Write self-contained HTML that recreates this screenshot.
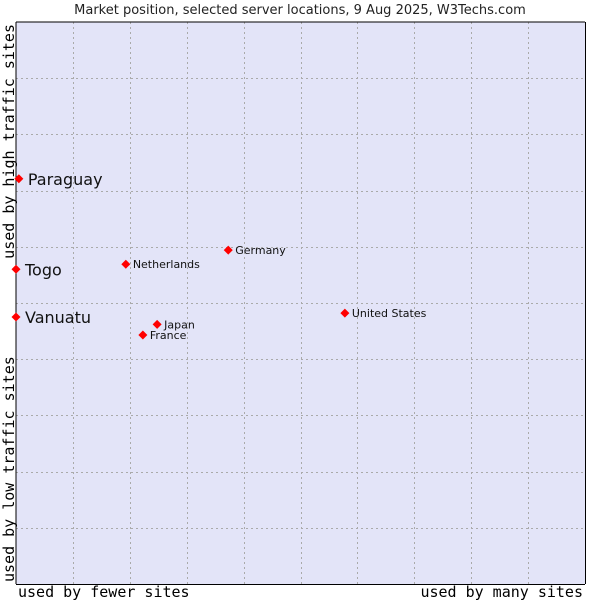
<!DOCTYPE html>
<html><head><meta charset="utf-8"><style>
body{margin:0;background:#fff;}
svg{display:block;font-family:"DejaVu Sans","Liberation Sans",sans-serif;}
</style></head><body>
<svg id="chart" width="600" height="600">
<text x="300" y="14" text-anchor="middle" font-size="13" fill="#222">Market position, selected server locations, 9 Aug 2025, W3Techs.com</text>
<rect x="16" y="22" width="569" height="562" fill="#e3e4f8"/>
<g id="grid"></g>
<line x1="16" y1="22" x2="585" y2="22" stroke="#000"/>
<line x1="16" y1="22" x2="16" y2="584" stroke="#000"/>
<line x1="16" y1="584.5" x2="585" y2="584.5" stroke="#000"/>
<line x1="585.5" y1="22" x2="585.5" y2="584" stroke="#000"/>
<g id="points"></g>
<text x="18" y="597" font-family="DejaVu Sans Mono,Liberation Mono,monospace" font-size="15">used by fewer sites</text>
<text x="583" y="597" text-anchor="end" font-family="DejaVu Sans Mono,Liberation Mono,monospace" font-size="15">used by many sites</text>
<text transform="translate(14,582) rotate(-90)" font-family="DejaVu Sans Mono,Liberation Mono,monospace" font-size="15">used by low traffic sites</text>
<text transform="translate(14,24) rotate(-90)" text-anchor="end" font-family="DejaVu Sans Mono,Liberation Mono,monospace" font-size="15">used by high traffic sites</text>
</svg>
<script>
const names=["Paraguay","Togo","Vanuatu","Netherlands","Germany","United States","Japan","France"];
const xVals=[0.5,0,0,19.3,37.3,57.8,24.8,22.3];
const yVals=[72.1,56.0,47.5,56.9,59.4,48.2,46.2,44.3];
const big=[true,true,true,false,false,false,false,false];
const NS="http://www.w3.org/2000/svg";
const L=16,R=585,T=22,B=584;
const xs=v=>L+v/100*(R-L);
const ys=v=>B-v/100*(B-T);
const grid=document.getElementById('grid');
for(let i=1;i<10;i++){
  const gx=L+i*(R-L)/10, gy=T+i*(B-T)/10;
  const a=document.createElementNS(NS,'line');
  a.setAttribute('x1',Math.round(gx)+0.5);a.setAttribute('x2',Math.round(gx)+0.5);a.setAttribute('y1',T);a.setAttribute('y2',B);
  a.setAttribute('stroke','#aaa');a.setAttribute('stroke-dasharray','2,3');
  
  
  grid.appendChild(a);
  const b=document.createElementNS(NS,'line');
  b.setAttribute('y1',Math.round(gy)+0.5);b.setAttribute('y2',Math.round(gy)+0.5);b.setAttribute('x1',L);b.setAttribute('x2',R);
  b.setAttribute('stroke','#aaa');b.setAttribute('stroke-dasharray','2,3');
  
  
  grid.appendChild(b);
}
const pts=document.getElementById('points');
names.forEach((n,i)=>{
  const cx=xs(xVals[i]),cy=ys(yVals[i]);
  const d=document.createElementNS(NS,'polygon');
  const r=4.5;
  d.setAttribute('points',`${cx},${cy-r} ${cx+r},${cy} ${cx},${cy+r} ${cx-r},${cy}`);
  d.setAttribute('fill','#f00');
  
  
  pts.appendChild(d);
  const t=document.createElementNS(NS,'text');
  t.setAttribute('x',cx+(big[i]?9:7));
  t.setAttribute('y',cy+(big[i]?6:4));
  t.setAttribute('font-size',big[i]?16:11);
  t.setAttribute('fill','#111');
  t.textContent=n;
  
  
  pts.appendChild(t);
});
</script>
</body></html>
